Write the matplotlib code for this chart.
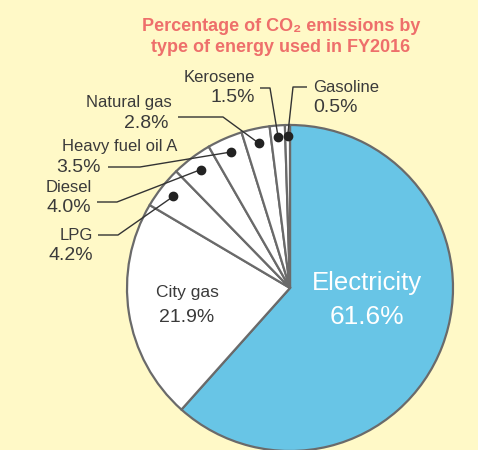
import matplotlib.pyplot as plt
import numpy as np

plt.rcParams['font.family'] = ['Liberation Sans', 'DejaVu Sans']

# data, clockwise from 12 o'clock
labels = ['Electricity', 'City gas', 'LPG', 'Diesel', 'Heavy fuel oil A',
          'Natural gas', 'Kerosene', 'Gasoline']
shares = [61.6, 21.9, 4.2, 4.0, 3.5, 2.8, 1.5, 0.5]
colors = ['#68C5E6'] + ['white'] * 7

bg = '#FFF9C7'
txt = '#3a3a3a'
edge = '#6a6a6a'

fig = plt.figure(figsize=(4.78, 4.5), dpi=100, facecolor=bg)
ax = fig.add_axes([0, 0, 1, 1])

cx, cy, r = 290, 162, 163
wedges, _ = ax.pie(shares, colors=colors, startangle=90, counterclock=False,
                   center=(cx, cy), radius=r, frame=True,
                   wedgeprops=dict(edgecolor=edge, linewidth=1.6))
ax.set_xlim(0, 478)
ax.set_ylim(0, 450)
ax.set_aspect('equal')
ax.axis('off')

ax.text(281, 413, 'Percentage of CO\u2082 emissions by\ntype of energy used in FY2016',
        ha='center', va='center', fontsize=13, fontweight='bold',
        color='#EE6F6B', linespacing=1.3)

# big labels inside
ax.text(367, 167, 'Electricity', ha='center', va='center', fontsize=18.5, color='white')
ax.text(367, 133, '61.6%', ha='center', va='center', fontsize=19, color='white')
ax.text(187, 157, 'City gas', ha='center', va='center', fontsize=12.5, color=txt)
ax.text(187, 133, '21.9%', ha='center', va='center', fontsize=14, color=txt)

# small slices: label name pos, pct pos, elbow start, elbow end, alignment
small = {
    'LPG':              dict(name=(93, 215), pct=(93, 195), h0=(98, 215), h1=(118, 215), ha='right'),
    'Diesel':           dict(name=(92, 262), pct=(91, 242), h0=(97, 248), h1=(117, 248), ha='right'),
    'Heavy fuel oil A': dict(name=(177, 304), pct=(101, 283), h0=(108, 283), h1=(140, 283), ha='right'),
    'Natural gas':      dict(name=(172, 347), pct=(169, 327), h0=(178, 333), h1=(223, 333), ha='right'),
    'Kerosene':         dict(name=(255, 373), pct=(255, 353), h0=(260, 362), h1=(270, 362), ha='right'),
    'Gasoline':         dict(name=(313, 363), pct=(313, 343), h0=(307, 363), h1=(293, 363), ha='left'),
}

cum = np.cumsum([0] + shares)
for i, lab in enumerate(labels):
    if lab not in small:
        continue
    s = small[lab]
    mid = (cum[i] + cum[i + 1]) / 2 / 100 * 360
    rr = 0.91 * r if shares[i] > 2 else 0.93 * r
    dx = cx + rr * np.sin(np.radians(mid))
    dy = cy + rr * np.cos(np.radians(mid))
    ax.plot([s['h0'][0], s['h1'][0], dx], [s['h0'][1], s['h1'][1], dy],
            color='#333333', lw=1.0, solid_capstyle='butt')
    ax.plot(dx, dy, 'o', color='#222222', ms=6)
    ax.text(s['name'][0], s['name'][1], lab, ha=s['ha'], va='center',
            fontsize=12, color=txt)
    ax.text(s['pct'][0], s['pct'][1], f'{shares[i]}%', ha=s['ha'], va='center',
            fontsize=14, color=txt)

fig.savefig('out.png', dpi=100, facecolor=bg)
